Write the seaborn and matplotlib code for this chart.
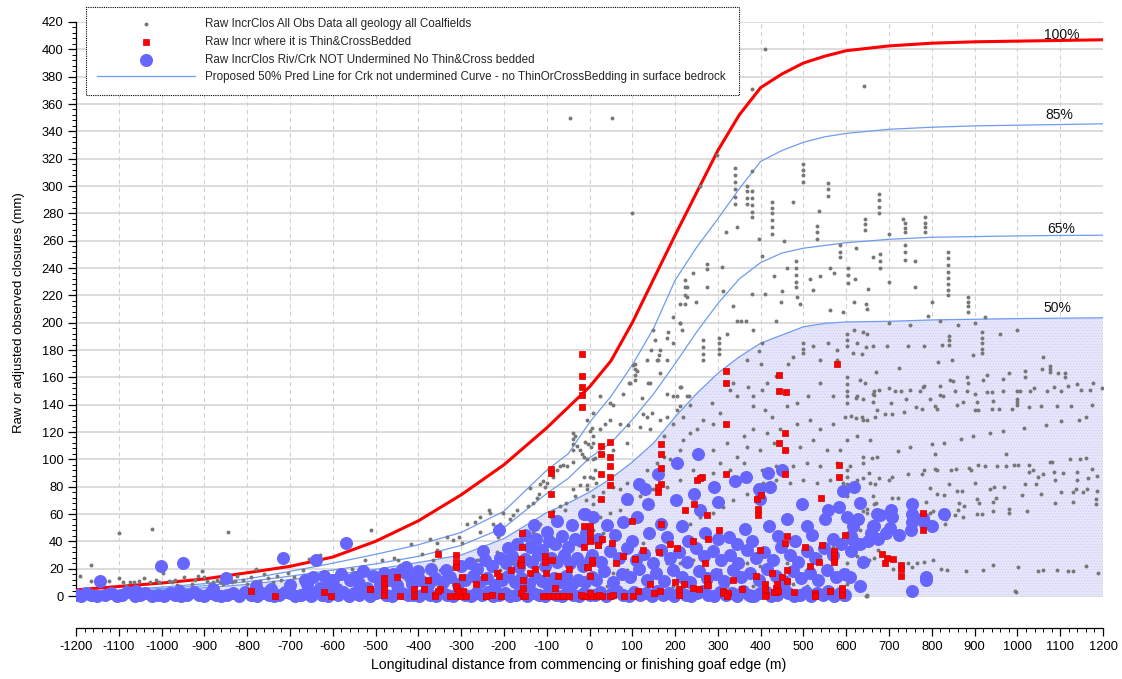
import matplotlib
matplotlib.use("Agg")
import matplotlib.pyplot as plt
import numpy as np
import seaborn as sns
from matplotlib.ticker import FixedLocator

# ---------------- data ----------------
curve_x = [-1200, -1100, -1000, -900, -800, -700, -600, -500, -400, -300, -200, -100, -50, 0, 50, 100,
           150, 200, 250, 300, 350, 400, 450, 500, 550, 600, 700, 800, 900, 1000, 1100, 1200]
pct100 = [4.5, 7, 9.5, 12.5, 17, 21.7, 28.5, 40, 55, 74, 96, 123, 138, 153, 172, 200,
          232, 264, 295, 326, 352, 372, 382, 390, 395, 399, 402.5, 404.5, 405.5, 406, 406.5, 407]
pct85 = [3, 4.5, 6.5, 9, 12.5, 18, 24, 30.5, 37.5, 46.5, 62, 92, 104, 127, 146, 169,
         196, 231, 255, 276, 298, 318, 326, 332, 336, 338.5, 341.5, 343, 344, 344.5, 345, 345.5]
pct65 = [2.5, 4, 5.5, 7.5, 10.5, 14.5, 19, 23.5, 29, 37, 50, 75, 86, 101, 112, 129,
         148, 170, 193, 214, 232, 244, 251, 254.5, 256.5, 258.5, 261, 262.5, 263, 263.5, 263.8, 264]
pct50 = [2, 3, 4.5, 6, 8.5, 12, 15.5, 19.5, 24.5, 30, 42, 61, 68, 76, 86, 98,
         112, 131, 148, 163, 175, 185, 191, 197, 199.5, 200.5, 201, 202, 202.5, 203, 203.3, 203.6]

curve_labels = ["100%", "85%", "65%", "50%"]
label_x = [1104, 1098, 1103, 1093]
label_y = [410.5, 352, 268.5, 210.5]

gray_pts = [
    (-1190, 15), (-1165, 23), (-1165, 11), (-1140, 2), (-1124, 1), (-1122, 11), (-1100, 46), (-1099, 13),
    (-1089, 10), (-1082, 7), (-1074, 10), (-1064, 10), (-1052, 11), (-1040, 13), (-1027, 10), (-1022, 49),
    (-1012, 12), (-1005, 10), (-997, 17), (-982, 11), (-975, 10), (-969, 12), (-963, 8), (-957, 7),
    (-947, 14), (-930, 9), (-922, 12), (-916, 15), (-905, 18), (-902, 14), (-895, 11), (-887, 9),
    (-879, 10), (-871, 12), (-863, 10), (-857, 9), (-850, 10), (-845, 47), (-844, 14), (-836, 10),
    (-828, 11), (-824, 15), (-810, 12), (-800, 9), (-790, 14), (-779, 20), (-770, 11), (-760, 16),
    (-751, 13), (-740, 10), (-730, 15), (-720, 12), (-705, 17), (-690, 14), (-670, 19), (-660, 12),
    (-655, 27), (-630, 30), (-556, 20), (-525, 26), (-486, 26), (-521, 20), (-548, 13), (-567, 15),
    (-476, 19), (-458, 28), (-447, 26), (-443, 23), (-511, 48), (-416, 38), (-392, 31), (-373, 42),
    (-357, 39), (-356, 34), (-365, 26), (-334, 43), (-318, 41), (-304, 43), (-299, 39), (-287, 53),
    (-268, 54), (-256, 47), (-236, 63), (-232, 61), (-226, 53), (-256, 58), (-209, 53), (-201, 61),
    (-213, 43), (-186, 56), (-178, 59), (-170, 63), (-159, 45), (-143, 66), (-139, 79), (-131, 68),
    (-123, 72), (-119, 75), (-116, 82), (-108, 84), (-104, 80), (-100, 83), (-85, 87), (-77, 92),
    (-69, 95), (-61, 96), (-53, 95), (-39, 98), (-38, 119), (-38, 115), (-38, 111), (-38, 107),
    (-34, 117), (-30, 110), (-11, 113), (1, 121), (9, 100), (13, 92), (9, 86), (-7, 81),
    (-22, 81), (-38, 78), (-33, 73), (-55, 68), (-70, 66), (-85, 62), (-91, 58), (-116, 53),
    (-131, 47), (-147, 41), (-170, 39), (-194, 34), (-217, 32), (-240, 29), (-264, 26), (-287, 24),
    (-318, 21), (-349, 19), (-380, 18), (-412, 17), (-435, 14), (-466, 13), (-497, 12), (-529, 11),
    (-560, 9), (-591, 9), (-622, 9), (-653, 8), (-22, 107), (-18, 104), (-14, 102), (1, 87),
    (8, 67), (-8, 70), (-57, 63), (-77, 53), (-100, 48), (-123, 36), (-147, 26), (-178, 24),
    (-209, 19), (-244, 15), (-271, 19), (-303, 15), (-326, 12), (-361, 9), (-388, 7), (-419, 6),
    (-451, 4), (-482, 4), (-513, 2), (-544, 2), (-575, 1), (-606, 1), (-638, 1), (5, 123),
    (9, 112), (3, 109), (-46, 350), (53, 350),
    (99, 280), (409, 400), (379, 371), (642, 373), (297, 323), (258, 300), (379, 311),
    (340, 313), (340, 308), (340, 303), (340, 298), (340, 292), (340, 287), (367, 300), (367, 296),
    (367, 291), (367, 287), (379, 296), (379, 291), (379, 286), (379, 281), (379, 277), (426, 288),
    (426, 284), (426, 280), (426, 275), (426, 270), (426, 265), (476, 288), (500, 316), (500, 312),
    (500, 308), (500, 303), (536, 282), (558, 302), (558, 298), (558, 293), (677, 294), (677, 290),
    (677, 285), (677, 280), (644, 276), (733, 276), (531, 271), (531, 266), (531, 261), (644, 272),
    (644, 268), (585, 257), (585, 252), (585, 248), (483, 245), (483, 240), (483, 235), (483, 230),
    (483, 226), (223, 231), (223, 226), (223, 220), (223, 214), (106, 170), (106, 166), (106, 162),
    (106, 158), (266, 187), (266, 182), (266, 177), (266, 173), (303, 189), (303, 185), (303, 181),
    (303, 177), (320, 266), (344, 270), (397, 261), (454, 260), (274, 243), (309, 241), (404, 249),
    (462, 240), (515, 232), (539, 234), (562, 240), (572, 236), (605, 240), (605, 235), (605, 229),
    (622, 255), (663, 248), (227, 219), (250, 215), (274, 226), (311, 223), (336, 212), (380, 221),
    (410, 221), (430, 234), (449, 223), (447, 215), (486, 219), (492, 214), (523, 224), (563, 209),
    (593, 208), (619, 215), (646, 214), (649, 210), (344, 201), (355, 201), (366, 201), (381, 195),
    (402, 185), (321, 192), (437, 201), (157, 173), (163, 176), (182, 189), (211, 200), (217, 195),
    (149, 195), (143, 180), (196, 185), (93, 156), (141, 156), (122, 145), (165, 163), (182, 148),
    (204, 146), (213, 153), (233, 146),
    (102, 169), (95, 156), (137, 156), (159, 173), (182, 173), (211, 153), (196, 146), (227, 146),
    (235, 140), (219, 131), (204, 136), (180, 131), (165, 129), (145, 134), (134, 131), (118, 124),
    (91, 125), (71, 126), (56, 140), (48, 129), (36, 126), (24, 122), (9, 117), (-3, 111),
    (-7, 100), (-14, 87), (15, 83), (-7, 78), (9, 73), (23, 70), (32, 76), (56, 80),
    (71, 78), (87, 83), (110, 85), (134, 92), (157, 97), (173, 102), (188, 100), (212, 107),
    (219, 114), (235, 119), (251, 122), (266, 129), (289, 126), (305, 134), (286, 141), (328, 151),
    (344, 146), (371, 153), (383, 146), (402, 151), (414, 156), (437, 161), (465, 170), (476, 175),
    (500, 185), (500, 181), (500, 178), (523, 183), (539, 173), (558, 185), (578, 180), (578, 173),
    (601, 192), (601, 187), (601, 183), (624, 185), (648, 192), (663, 183), (617, 195),
    (367, 173), (400, 170), (397, 179), (336, 156), (383, 139), (410, 136), (426, 131), (461, 139),
    (484, 141), (511, 146), (539, 156), (570, 146), (601, 160), (601, 155), (601, 150), (601, 146),
    (601, 141), (624, 146), (644, 156), (663, 148), (671, 136), (636, 131), (597, 131), (570, 126),
    (539, 122), (515, 129), (484, 126), (445, 122), (414, 119), (383, 122), (360, 117), (321, 112),
    (289, 107), (258, 102), (305, 97), (344, 102), (367, 109), (398, 107), (430, 112), (461, 107),
    (492, 109), (523, 114), (554, 107), (585, 107), (601, 114), (624, 117), (656, 114), (671, 102),
    (640, 97), (609, 95), (578, 97), (539, 95), (508, 97), (476, 95), (437, 95), (402, 92),
    (360, 97), (328, 92), (289, 90), (243, 92), (212, 85), (180, 80), (149, 78), (118, 73),
    (95, 68), (71, 63), (48, 61), (25, 58), (1, 56), (9, 48), (32, 46), (56, 43),
    (95, 41), (126, 39), (157, 36), (188, 39), (212, 48), (235, 53), (258, 58), (289, 61),
    (313, 65), (336, 70), (367, 75), (406, 83), (437, 85), (469, 83), (500, 85), (531, 83),
    (562, 85), (593, 83), (624, 85), (656, 83), (601, 92), (601, 87), (601, 82), (601, 77),
    (601, 73), (663, 73), (648, 61), (632, 48), (601, 41), (570, 36), (539, 29), (515, 19),
    (492, 26), (461, 24), (430, 29), (398, 22), (367, 24), (336, 26), (305, 19), (274, 29),
    (243, 26), (212, 24), (180, 24), (149, 19), (118, 17), (87, 19), (56, 17), (25, 19),
    (-7, 14), (601, 24), (601, 19), (601, 14), (601, 9), (601, 4), (570, 17), (539, 9),
    (508, 7), (476, 9), (445, 2), (414, 4), (383, 7), (352, 4), (321, 7), (289, 2),
    (258, 4), (227, 2), (196, 7), (165, 4), (134, 7), (102, 2), (71, 4), (40, 7),
    (9, 2), (648, 1), (126, 133), (87, 112), (56, 107), (32, 104), (13, 101), (141, 122),
    (173, 117), (196, 126), (212, 139), (-7, 129), (9, 134), (48, 141), (79, 148), (25, 146),
    (110, 165), (134, 173), (153, 187), (184, 193), (165, 180), (196, 204), (212, 214), (227, 226),
    (243, 236), (274, 239), (212, 200), (997, 3), (649, 0), (477, 0), (260, 0), (68, 6),
    (640, 193), (646, 182), (695, 183), (745, 183), (782, 183), (823, 184), (839, 190), (839, 187),
    (839, 184), (918, 193), (918, 189), (918, 185), (918, 181), (918, 178), (615, 178), (636, 177),
    (815, 171), (848, 173), (896, 176), (1059, 175), (1075, 168), (1075, 166), (1075, 164), (1111, 163),
    (1111, 160), (1058, 166), (1018, 165), (1018, 160), (1094, 163), (981, 163), (928, 162), (883, 160),
    (843, 158), (670, 164), (724, 167), (631, 158), (780, 153), (818, 154), (849, 157), (885, 156),
    (920, 158), (967, 159), (1139, 155), (1176, 156), (1197, 152), (1170, 151), (1148, 151), (1119, 154),
    (1086, 153), (1101, 150), (1069, 150), (1039, 152), (1030, 150), (1000, 150), (1006, 150), (966, 150),
    (940, 149), (930, 149), (902, 148), (882, 150), (854, 150), (827, 146), (819, 147), (796, 144),
    (782, 154), (773, 150), (748, 151), (727, 150), (715, 150), (701, 152), (677, 151), (665, 150),
    (665, 147), (640, 144), (622, 145), (662, 142), (704, 141), (740, 144), (763, 138), (776, 137),
    (808, 139), (813, 137), (858, 140), (874, 142), (905, 142), (901, 136), (909, 136), (942, 143),
    (941, 137), (958, 137), (987, 137), (998, 144), (998, 142), (998, 140), (1026, 138), (1055, 139),
    (1093, 139), (1126, 139), (1174, 140), (1161, 131), (1143, 129), (1103, 128), (1067, 125), (1016, 123),
    (967, 121), (936, 119), (896, 117), (868, 115), (829, 112), (801, 111), (749, 109), (722, 106),
    (610, 132), (623, 130), (640, 129), (648, 129), (667, 131), (691, 133), (706, 133), (734, 135),
    (640, 102), (660, 101), (808, 104), (974, 104), (1123, 100), (1146, 100), (1160, 101), (1075, 98),
    (1081, 98), (1026, 96), (1036, 92), (1002, 96), (993, 96), (974, 95), (952, 95), (924, 95),
    (909, 96), (888, 94), (891, 92), (857, 93), (844, 92), (813, 92), (808, 93), (782, 92),
    (776, 89), (745, 89), (706, 87), (701, 85), (677, 86), (667, 82), (653, 90), (639, 86),
    (625, 82), (1026, 91), (1059, 89), (1086, 91), (1107, 90), (1139, 91), (1166, 86), (1185, 88),
    (1174, 93), (1139, 85), (1087, 85), (1044, 82), (1018, 82), (969, 80), (945, 80), (935, 78),
    (901, 83), (839, 82), (796, 79), (1049, 87), (1010, 74), (1055, 75), (1101, 76), (1129, 76),
    (1137, 78), (1153, 76), (1162, 78), (1184, 71), (1184, 67), (1185, 77), (1129, 69), (1088, 68),
    (981, 64), (981, 61), (1023, 62), (944, 69), (950, 72), (911, 68), (905, 71), (906, 60),
    (917, 60), (942, 62), (864, 68), (876, 66), (862, 63), (855, 59), (874, 58), (858, 77),
    (870, 77), (829, 74), (813, 75), (787, 69), (796, 61), (802, 62), (833, 56), (831, 53),
    (763, 68), (722, 72), (706, 72), (670, 68), (666, 67), (648, 64), (639, 62), (709, 51),
    (696, 58), (687, 60), (730, 44), (625, 29), (654, 26), (665, 28), (701, 28), (709, 20),
    (745, 24), (765, 24), (782, 25), (802, 26), (753, 21), (821, 20), (836, 19), (880, 18),
    (920, 19), (942, 23), (1001, 21), (1049, 18), (1059, 19), (1092, 19), (1119, 18), (1129, 18),
    (1160, 22), (1189, 17), (675, 34), (995, 4), (646, 0),
    (679, 250), (679, 245), (679, 240), (737, 257), (737, 252), (737, 246), (737, 273), (737, 269),
    (737, 266), (784, 277), (784, 273), (784, 270), (784, 266), (838, 252), (838, 247), (838, 242),
    (838, 237), (838, 233), (838, 228), (838, 224), (838, 220), (884, 219), (884, 215), (884, 212),
    (884, 208), (924, 204), (700, 230), (760, 226), (800, 215), (820, 201), (860, 198), (900, 200),
    (960, 192), (1000, 195), (700, 200), (750, 198), (790, 205), (650, 225), (620, 232), (700, 265),
    (760, 245),
]

red_pts = [
    (-18, 177), (-18, 161), (-18, 153), (-18, 147), (-18, 138),
    (-91, 93), (-91, 90), (-91, 75), (-91, 60),
    (27, 110), (48, 113), (27, 104), (48, 102), (48, 95), (27, 89), (48, 87), (48, 81), (27, 71),
    (166, 111), (166, 104), (166, 94), (166, 82), (161, 76), (166, 53), (318, 165), (318, 156),
    (318, 126), (444, 162), (444, 150), (459, 149), (456, 119), (444, 112), (456, 107), (456, 89),
    (579, 170), (582, 96), (582, 87), (318, 89), (263, 87), (251, 85), (259, 86), (245, 67),
    (274, 59), (224, 63), (391, 71), (400, 74), (393, 64), (393, 59), (541, 72), (159, 80),
    (99, 55), (1, 51), (1, 46), (1, 41), (-13, 36), (21, 37), (29, 42), (52, 39), (79, 29),
    (126, 34), (107, 27), (187, 38), (205, 35), (163, 32), (62, 24), (7, 24), (-7, 21), (1, 15),
    (241, 40), (278, 42), (302, 48), (270, 24), (275, 13), (275, 8), (335, 12), (323, 2),
    (313, 4), (356, 5), (389, 15), (399, 34), (409, 9), (409, 5), (412, 1), (437, 6), (437, 3),
    (427, 17), (451, 14), (461, 11), (461, 19), (458, 39), (461, 44), (479, 3), (504, 36),
    (515, 22), (526, 2), (537, 25), (543, 37), (562, 4), (571, 33), (571, 30), (571, 27),
    (571, 25), (589, 6), (589, 2), (597, 45), (430, 3),
    (-480, 13), (-480, 9), (-480, 5), (-480, 1), (-312, 30), (-312, 25), (-312, 21), (-312, 7),
    (-312, 0), (-450, 14), (-513, 5), (-620, 3), (-604, 0), (-377, 12), (-387, 5), (-409, 5),
    (-409, 0), (-444, 0), (-360, 1), (-349, 5), (-353, 31), (-297, 14), (-310, 6), (-295, 4),
    (-326, 0), (-301, 0), (-289, 0), (-265, 9), (-247, 14), (-242, 0), (-227, 1), (-217, 17),
    (-211, 15), (-206, 0), (-184, 19), (-163, 24), (-157, 46), (-157, 36), (-160, 27), (-160, 23),
    (-156, 12), (-156, 6), (-160, 2), (-156, 0), (-150, 0), (-138, 17), (-127, 20), (-104, 29),
    (-104, 25), (-102, 17), (-88, 26), (-74, 15), (-80, 6), (-108, 0), (-95, 0), (-84, 0),
    (-74, 0), (-64, 0), (-47, 20), (-4, 21), (7, 26), (-16, 0), (-9, 0), (6, 0),
    (19, 37), (2, 40), (-13, 51),
    (-791, 4), (-735, 0), (-514, 5), (-362, 0), (-353, 4), (-308, 4), (-241, 0),
    (-62, 0), (-48, 0), (-19, 1), (0, 2), (17, 0), (23, 1), (30, 0), (49, 0), (55, 1), (80, 0),
    (101, 0), (114, 4), (141, 9), (151, 2), (164, 4), (200, 10), (208, 5), (208, 1), (221, 9),
    (242, 6), (256, 5), (277, 8), (313, 2), (321, 0), (409, 0), (439, 9), (441, 4), (527, 1),
    (527, 0), (563, 4), (590, 4), (590, 1),
    (684, 31), (696, 28), (709, 27), (691, 24), (728, 23), (728, 20), (728, 15), (779, 61), (779, 48),
]

blue_pts = [
    (-1198, 1), (-1188, 0), (-1176, 2), (-1165, 1), (-1150, 0), (-1132, 1), (-1118, 2), (-1105, 0),
    (-1092, 1), (-1080, 3), (-1063, 0), (-1050, 1), (-1038, 2), (-1022, 0), (-1008, 1), (-995, 0),
    (-980, 2), (-968, 1), (-955, 0), (-940, 1), (-925, 3), (-912, 1), (-900, 0), (-886, 2),
    (-872, 1), (-860, 0), (-846, 1), (-832, 2), (-820, 0), (-806, 3), (-792, 1), (-778, 0),
    (-765, 2), (-750, 1), (-738, 0), (-725, 1), (-712, 3), (-700, 2), (-688, 0), (-675, 1),
    (-662, 2), (-650, 0), (-638, 3), (-625, 1), (-612, 0), (-600, 2), (-588, 1), (-575, 3),
    (-562, 0), (-550, 2), (-538, 1), (-525, 4), (-512, 0), (-500, 2), (-488, 3), (-475, 1),
    (-462, 0), (-450, 3), (-438, 2), (-425, 1),
    (-1145, 11), (-1001, 22), (-950, 24), (-849, 13), (-716, 28), (-639, 26), (-569, 39), (-780, 7),
    (-700, 8), (-660, 9), (-610, 8), (-590, 5), (-540, 10), (-520, 6), (-490, 9), (-470, 12),
    (-450, 8), (-429, 21), (-420, 14), (-880, 5), (-960, 4), (-1060, 4), (-745, 5), (-630, 6),
    (-560, 12), (-665, 12), (-645, 14), (-620, 15), (-600, 12), (-580, 16), (-548, 14), (-530, 18),
    (-505, 15), (-480, 17), (-460, 16), (-440, 18),
    (-412, 1), (-398, 0), (-385, 2), (-372, 1), (-358, 0), (-345, 3), (-332, 1), (-318, 0),
    (-305, 2), (-292, 1), (-278, 0), (-265, 2), (-252, 1), (-238, 3), (-225, 0), (-212, 1),
    (-198, 2), (-185, 0), (-172, 1), (-158, 3), (-145, 0), (-132, 2), (-118, 1), (-105, 0),
    (-92, 2), (-78, 1), (-65, 0), (-52, 3), (-38, 1), (-25, 0), (-12, 2), (0, 1),
    (-415, 9), (-395, 12), (-378, 8), (-360, 13), (-342, 10), (-325, 14), (-308, 9), (-290, 12),
    (-272, 15), (-255, 10), (-240, 13), (-222, 8), (-205, 12), (-190, 15), (-175, 10), (-160, 13),
    (-142, 9), (-128, 14), (-112, 11), (-98, 8), (-82, 13), (-68, 10), (-55, 15), (-40, 9),
    (-28, 12), (-10, 10), (5, 14),
    (-400, 18), (-370, 20), (-335, 19), (-300, 22), (-280, 24), (-262, 20), (-245, 26), (-228, 22),
    (-210, 28), (-195, 24), (-180, 29), (-165, 21), (-150, 27), (-135, 25), (-120, 30), (-105, 22),
    (-90, 28), (-75, 25), (-60, 30), (-45, 24), (-30, 28), (-15, 22), (0, 26),
    (-211, 48), (-250, 33), (-190, 35), (-170, 38), (-140, 36), (-125, 42), (-110, 34), (-95, 40),
    (-80, 38), (-65, 44), (-50, 36), (-35, 42), (-20, 40), (-8, 46), (-150, 45), (-100, 47),
    (-130, 52), (-75, 55), (-10, 60), (-40, 52),
    (12, 1), (25, 3), (38, 0), (52, 2), (65, 4), (78, 1), (92, 0), (105, 3), (118, 1), (132, 2),
    (145, 0), (158, 4), (172, 1), (185, 2), (198, 0), (212, 3), (225, 1), (238, 0), (252, 2),
    (265, 4), (278, 1), (292, 0), (305, 3), (318, 1), (332, 2), (345, 0), (358, 4), (372, 1),
    (385, 0), (398, 2), (412, 3), (425, 0), (438, 1), (452, 4), (465, 2), (478, 0), (492, 1),
    (505, 3), (518, 0), (532, 2), (545, 1), (558, 4), (572, 0), (585, 2), (598, 1),
    (15, 12), (35, 18), (55, 10), (75, 16), (95, 14), (115, 20), (135, 12), (155, 17), (175, 11),
    (195, 19), (215, 14), (235, 10), (255, 18), (275, 13), (295, 16), (315, 11), (335, 19), (355, 14),
    (375, 17), (395, 12), (415, 20), (435, 15), (455, 11), (475, 18), (495, 13), (515, 17), (535, 12),
    (555, 19), (575, 14), (595, 16),
    (5, 30), (28, 25), (48, 33), (68, 28), (88, 35), (108, 26), (128, 31), (148, 24), (168, 34),
    (188, 28), (208, 32), (228, 25), (248, 35), (268, 29), (288, 33), (308, 26), (328, 30), (348, 24),
    (368, 34), (388, 28), (408, 32), (428, 26), (448, 36), (468, 30), (488, 25), (508, 33), (528, 28),
    (548, 35), (568, 30), (588, 38), (610, 33), (640, 25),
    (20, 42), (60, 45), (100, 40), (140, 46), (180, 43), (230, 40), (270, 46), (300, 42), (345, 38),
    (380, 40), (440, 44), (480, 40), (520, 45), (570, 42), (610, 44), (650, 40),
    (-14, 60), (9, 58), (40, 52), (79, 54), (112, 58), (167, 53), (217, 51), (327, 43), (364, 49),
    (420, 51), (461, 56), (508, 51), (550, 56), (558, 63), (582, 65), (601, 58), (628, 56), (663, 51),
    (673, 60), (496, 67), (592, 77), (617, 80), (632, 68), (397, 78), (422, 80), (398, 71), (301, 69),
    (341, 84), (366, 87), (291, 80), (258, 63), (244, 75), (202, 70), (137, 67), (87, 71), (130, 78),
    (115, 82), (159, 89), (204, 97), (254, 104), (416, 90), (449, 92),
    (632, 38), (613, 42), (615, 51), (664, 51), (658, 46), (678, 59), (675, 42), (693, 46), (704, 63),
    (706, 58), (702, 50), (724, 45), (753, 67), (753, 60), (753, 54), (751, 48), (779, 57), (782, 54),
    (801, 51), (829, 60), (787, 14), (631, 7), (753, 4), (609, 14), (560, 2), (594, 1), (378, 0),
    (455, 6), (787, 12),
]

gray_x = [p[0] for p in gray_pts]
gray_y = [p[1] for p in gray_pts]
red_x = [p[0] for p in red_pts]
red_y = [p[1] for p in red_pts]
blue_x = [p[0] for p in blue_pts]
blue_y = [p[1] for p in blue_pts]

xticks = list(range(-1200, 1201, 100))
yticks = list(range(0, 421, 20))

lbl_gray = "Raw IncrClos All Obs Data all geology all Coalfields"
lbl_red = "Raw Incr where it is Thin&CrossBedded"
lbl_blue = "Raw IncrClos Riv/Crk NOT Undermined No Thin&Cross bedded"
lbl_line = "Proposed 50% Pred Line for Crk not undermined Curve - no ThinOrCrossBedding in surface bedrock"

# ---------------- style ----------------
sns.set_theme(style="white")
plt.rcParams["font.family"] = ["Liberation Sans", "DejaVu Sans"]
plt.rcParams["axes.unicode_minus"] = False
plt.rcParams["hatch.linewidth"] = 0.6

fig = plt.figure(figsize=(11.22, 6.79), dpi=100)
ax = fig.add_axes([76 / 1122, 51 / 679, 1027 / 1122, 606 / 679])
ax.set_xlim(-1200, 1200)
ax.set_ylim(-23.4, 420)

# grid
ax.hlines(yticks, -1200, 1200, colors="#d2d2d2", linewidth=1.1, zorder=0)
ax.vlines(xticks, 0, 420, colors="#d2d2d2", linestyles=(0, (4, 3)), linewidth=0.8, zorder=0)

# shaded region under 50% curve
ax.fill_between(curve_x, 0, pct50, facecolor="#e7e7fc", edgecolor="#d0d0f4",
                hatch="......", linewidth=0, zorder=1)

# curves
sns.lineplot(x=curve_x, y=pct100, color="#ff0000", linewidth=2.2, sort=False, ax=ax, zorder=2)
sns.lineplot(x=curve_x, y=pct85, color="#6e9cf0", linewidth=0.9, sort=False, ax=ax, zorder=2)
sns.lineplot(x=curve_x, y=pct65, color="#6e9cf0", linewidth=0.9, sort=False, ax=ax, zorder=2)
sns.lineplot(x=curve_x, y=pct50, color="#6e9cf0", linewidth=0.9, sort=False, ax=ax, zorder=2,
             label=lbl_line)

# scatter
sns.scatterplot(x=gray_x, y=gray_y, marker="o", s=8, color="#777777", linewidth=0,
                ax=ax, zorder=3, label=lbl_gray)
sns.scatterplot(x=blue_x, y=blue_y, marker="o", s=88, color="#6666ff", linewidth=0,
                ax=ax, zorder=4, label=lbl_blue)
sns.scatterplot(x=red_x, y=red_y, marker="s", s=18, color="#ff0000", edgecolor="#d40000",
                linewidth=0.5, ax=ax, zorder=5, label=lbl_red)

for t, xx, yy in zip(curve_labels, label_x, label_y):
    ax.text(xx, yy, t, ha="center", va="center", fontsize=10, color="#111111", zorder=6)

# axes / ticks
for s in ["top", "right"]:
    ax.spines[s].set_visible(False)
ax.spines["left"].set_bounds(0, 420)
for s in ["left", "bottom"]:
    ax.spines[s].set_color("black")
    ax.spines[s].set_linewidth(0.9)

ax.xaxis.set_major_locator(FixedLocator(xticks))
ax.xaxis.set_minor_locator(FixedLocator(list(range(-1200, 1201, 20))))
ax.yaxis.set_major_locator(FixedLocator(yticks))
ax.yaxis.set_minor_locator(FixedLocator(list(range(0, 421, 4))))
ax.set_xticklabels([str(v) for v in xticks])
ax.set_yticklabels([str(v) for v in yticks])
ax.tick_params(axis="both", which="major", direction="out", length=6, width=0.9,
               color="black", labelsize=9.3, labelcolor="black", bottom=True, left=True, pad=3)
ax.tick_params(axis="both", which="minor", direction="out", length=3, width=0.7,
               color="black", bottom=True, left=True)

ax.set_xlabel("Longitudinal distance from commencing or finishing goaf edge (m)", fontsize=10.2,
              color="black")
ax.xaxis.set_label_coords(0.489, -0.049)
ax.set_ylabel("Raw or adjusted observed closures (mm)", fontsize=9.5, color="black")
ax.yaxis.set_label_coords(-0.050, 0.52)

# legend
handles, labels = ax.get_legend_handles_labels()
order = [lbl_gray, lbl_red, lbl_blue, lbl_line]
hmap = dict(zip(labels, handles))
leg = ax.legend([hmap[l] for l in order], order, loc="upper left",
                bbox_to_anchor=(0.0098, 0.876, 0.636, 0.149), bbox_transform=ax.transAxes,
                mode="expand", borderaxespad=0, fontsize=8.4, frameon=True, fancybox=False,
                framealpha=1, handlelength=8.4, handletextpad=0.85, labelspacing=0.5,
                borderpad=0.95, scatterpoints=1)
fr = leg.get_frame()
fr.set_edgecolor("black")
fr.set_linewidth(0.8)
fr.set_linestyle((0, (1, 1)))
leg.set_zorder(10)

fig.savefig("out.png", dpi=100)
